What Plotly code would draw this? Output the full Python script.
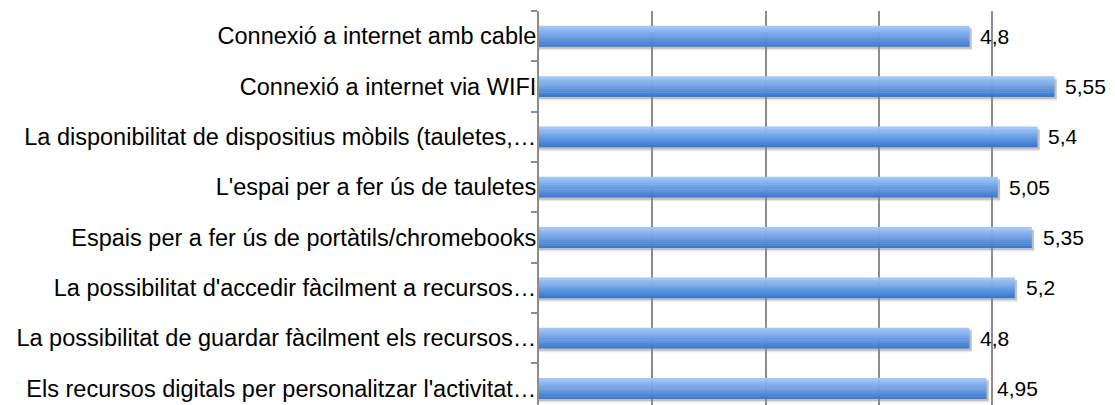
import plotly.graph_objects as go

# categories, top to bottom
categories = [
    "Connexió a internet amb cable",
    "Connexió a internet via WIFI",
    "La disponibilitat de dispositius mòbils (tauletes,…",
    "L'espai per a fer ús de tauletes",
    "Espais per a fer ús de portàtils/chromebooks",
    "La possibilitat d'accedir fàcilment a recursos…",
    "La possibilitat de guardar fàcilment els recursos…",
    "Els recursos digitals per personalitzar l'activitat…",
]
values = [4.8, 5.55, 5.4, 5.05, 5.35, 5.2, 4.8, 4.95]
value_labels = [str(v).replace(".", ",") for v in values]

FONT = "Liberation Sans, Arial, sans-serif"
BAR_W = 0.41
N_STRIPES = 10
TOP_RGB = (160, 198, 250)
BOT_RGB = (58, 122, 208)

fig = go.Figure()

# soft shadow below each bar
for dy, col in [(0.075, "rgba(160,160,160,0.25)"), (0.045, "rgba(120,120,120,0.35)")]:
    fig.add_trace(go.Bar(
        x=[v - 1 + 0.02 for v in values], y=categories, orientation="h", base=1,
        width=BAR_W, offset=-BAR_W / 2 + dy,
        marker=dict(color=col, line=dict(width=0)),
        hoverinfo="skip", showlegend=False,
    ))

# vertical gradient made of thin stripes
h = BAR_W / N_STRIPES
for i in range(N_STRIPES):
    t = i / (N_STRIPES - 1)
    rgb = tuple(round(a + (b - a) * t) for a, b in zip(TOP_RGB, BOT_RGB))
    fig.add_trace(go.Bar(
        x=[v - 1 for v in values], y=categories, orientation="h", base=1,
        width=h * 1.08, offset=-BAR_W / 2 + i * h,
        marker=dict(color="rgb(%d,%d,%d)" % rgb, line=dict(width=0)),
        hoverinfo="skip", showlegend=False,
    ))

for cat, v, lab in zip(categories, values, value_labels):
    fig.add_annotation(x=v, y=cat, text=lab, showarrow=False,
                       xanchor="left", xshift=9, yshift=0,
                       font=dict(family=FONT, size=21, color="#000000"))

# page body has an 8px margin, so the figure is made 8px smaller
fig.update_layout(
    width=1107, height=397,
    barmode="overlay",
    plot_bgcolor="white", paper_bgcolor="white",
    margin=dict(l=531, r=9, t=3, b=0),
    showlegend=False,
    font=dict(family=FONT, size=22, color="#000000"),
    xaxis=dict(range=[1, 6.005], dtick=1, tick0=1, showticklabels=False,
               showgrid=True, gridcolor="#8c8c8c", gridwidth=1.6,
               zeroline=False, showline=False, ticks="", automargin=False),
    yaxis=dict(type="category", categoryorder="array", categoryarray=categories,
               range=[7.33, -0.5], showgrid=False, zeroline=False,
               showline=True, linecolor="#8c8c8c", linewidth=2,
               ticks="outside", tickson="boundaries", ticklen=6,
               tickcolor="#8c8c8c", tickwidth=1.6, automargin=False,
               ticklabelstandoff=-4,
               tickfont=dict(family=FONT, size=23.5, color="#000000")),
)

fig.write_html("out.html")
